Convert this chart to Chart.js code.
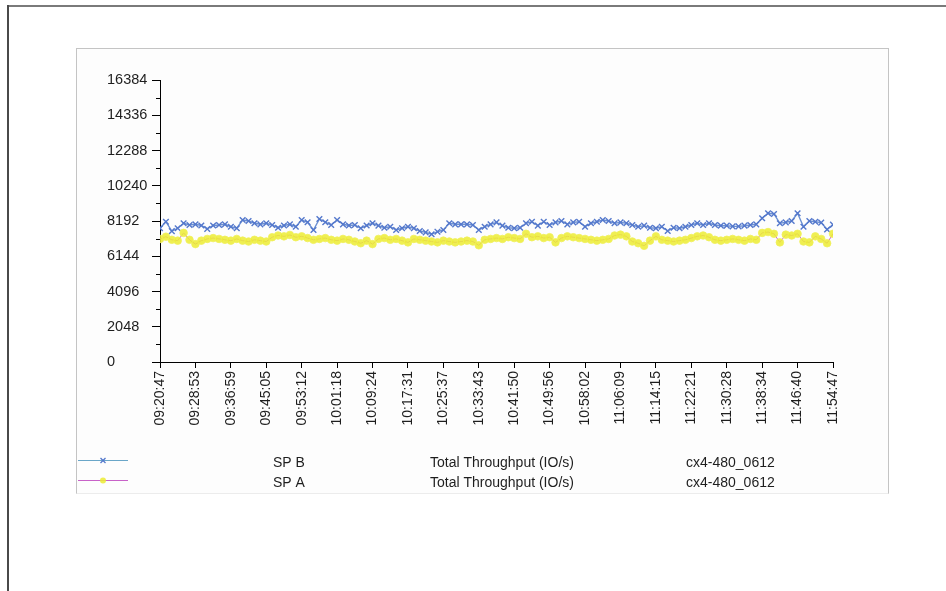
<!DOCTYPE html>
<html>
<head>
<meta charset="utf-8">
<title>Total Throughput (IO/s) - cx4-480_0612</title>
<script src="https://cdn.jsdelivr.net/npm/chart.js@4.4.1/dist/chart.umd.min.js"></script>
<style>
  html, body { margin: 0; padding: 0; background: #ffffff; }
  #page { position: relative; width: 946px; height: 591px; overflow: hidden; }
  #frameTop { position: absolute; left: 7px; top: 5px; width: 939px; height: 2px; background: #7a7a7a; }
  #frameLeft { position: absolute; left: 7px; top: 5px; width: 2px; height: 586px; background: #4a4a4a; }
  #panel { position: absolute; left: 76px; top: 48px; width: 811px; height: 444px;
           background: #fdfdfd; border: 1px solid #c4c4c4; border-bottom-color: #ececec; }
  #chartBox { position: absolute; left: 0; top: 0; width: 946px; height: 591px; }
</style>
</head>
<body>
<div id="page">
  <div id="frameTop"></div>
  <div id="frameLeft"></div>
  <div id="panel"></div>
  <div id="chartBox"><canvas id="chart" width="946" height="591"></canvas></div>
</div>
<script>
// Time labels shown on the x axis, one every POINTS_PER_TICK samples
const tickLabels = [
  '09:20:47', '09:28:53', '09:36:59', '09:45:05', '09:53:12',
  '10:01:18', '10:09:24', '10:17:31', '10:25:37', '10:33:43',
  '10:41:50', '10:49:56', '10:58:02', '11:06:09', '11:14:15',
  '11:22:21', '11:30:28', '11:38:34', '11:46:40', '11:54:47'
];
const POINTS_PER_TICK = 6;

// Y axis ticks (IO/s)
const yTicks = [0, 2048, 4096, 6144, 8192, 10240, 12288, 14336, 16384];

// Series names, metric and source columns of the legend
const seriesNames = ['SP B', 'SP A'];
const metricLabel = 'Total Throughput (IO/s)';
const sourceLabel = 'cx4-480_0612';

// Total throughput samples, SP B
const spB = [
  7770, 8150, 7600, 7770, 8060, 7960, 8000, 7930, 7730, 7930,
  7960, 8000, 7860, 7770, 8250, 8190, 8060, 8000, 8060, 7960,
  7800, 7930, 8000, 7860, 8250, 8120, 7670, 8310, 8120, 7960,
  8250, 8000, 7930, 7960, 7770, 7930, 8060, 7920, 7800, 7860,
  7670, 7770, 7860, 7770, 7610, 7530, 7420, 7570, 7670, 8060,
  8000, 8000, 8000, 7960, 7670, 7860, 8000, 8110, 7920, 7800,
  7770, 7800, 8060, 8150, 7920, 8150, 7960, 8110, 8190, 8000,
  8110, 8150, 7860, 8060, 8150, 8250, 8190, 8060, 8110, 8060,
  7960, 7860, 7920, 7800, 7770, 7860, 7610, 7800, 7770, 7860,
  7960, 8060, 7960, 8060, 7960, 7920, 7920, 7880, 7880, 7920,
  7960, 8000, 8350, 8640, 8600, 8060, 8110, 8190, 8640, 7860,
  8190, 8150, 8100, 7700, 7980
];

// Total throughput samples, SP A
const spA = [
  7150, 7280, 7100, 7050, 7500, 7100, 6850, 7050, 7150, 7200,
  7150, 7100, 7050, 7150, 7050, 7000, 7100, 7050, 7000, 7250,
  7350, 7300, 7380, 7250, 7300, 7200, 7100, 7150, 7200, 7100,
  7050, 7150, 7100, 7000, 6900, 7050, 6850, 7150, 7200, 7100,
  7150, 7050, 6950, 7150, 7100, 7050, 7000, 6950, 7050, 7000,
  6950, 7000, 7050, 7000, 6780, 7100, 7150, 7200, 7150, 7250,
  7200, 7150, 7450, 7250, 7300, 7200, 7250, 6950, 7200, 7300,
  7250, 7200, 7150, 7100, 7050, 7100, 7150, 7350, 7400, 7300,
  7000, 6900, 6750, 7050, 7300, 7100, 7050, 7000, 7050, 7100,
  7200, 7300, 7350, 7250, 7100, 7050, 7100, 7150, 7100, 7050,
  7150, 7100, 7500, 7550, 7450, 6950, 7400, 7350, 7450, 7000,
  6950, 7300, 7150, 6900, 7450
];

const FONT = 'Liberation Sans, Arial, sans-serif';
const TEXT = '#1e1e1e';

const toPoints = arr => arr.map((v, i) => ({ x: i, y: v }));

// Short minor ticks halfway between the labelled y ticks
const minorTicks = {
  id: 'minorTicks',
  afterDraw(chart) {
    const ys = chart.scales.y;
    const ctx = chart.ctx;
    ctx.save();
    ctx.strokeStyle = '#000000';
    ctx.lineWidth = 1;
    for (let k = 0; k < yTicks.length - 1; k++) {
      const v = (yTicks[k] + yTicks[k + 1]) / 2;
      const py = Math.round(ys.getPixelForValue(v)) + 0.5;
      ctx.beginPath();
      ctx.moveTo(ys.right - 4, py);
      ctx.lineTo(ys.right, py);
      ctx.stroke();
    }
    ctx.restore();
  }
};

// Tabular legend under the plot: symbol, series, metric, source
const tableLegend = {
  id: 'tableLegend',
  afterDraw(chart) {
    const ctx = chart.ctx;
    const cols = { symStart: 78, symEnd: 128, name: 273, metric: 430, source: 686 };
    ctx.save();
    chart.data.datasets.forEach((ds, i) => {
      const rowY = 460 + i * 20 + 0.5;
      const cx = (cols.symStart + cols.symEnd) / 2;
      ctx.strokeStyle = ds.legendLineColor;
      ctx.lineWidth = 1.2;
      ctx.beginPath();
      ctx.moveTo(cols.symStart, rowY);
      ctx.lineTo(cols.symEnd, rowY);
      ctx.stroke();
      if (ds.pointStyle === 'circle') {
        ctx.fillStyle = ds.pointBackgroundColor;
        ctx.beginPath();
        ctx.arc(cx, rowY, 3, 0, Math.PI * 2);
        ctx.fill();
      } else {
        const r = 2.5;
        ctx.strokeStyle = ds.pointBorderColor;
        ctx.lineWidth = 1.3;
        ctx.beginPath();
        ctx.moveTo(cx - r, rowY - r); ctx.lineTo(cx + r, rowY + r);
        ctx.moveTo(cx + r, rowY - r); ctx.lineTo(cx - r, rowY + r);
        ctx.stroke();
      }
      ctx.fillStyle = TEXT;
      ctx.font = '14px ' + FONT;
      ctx.textBaseline = 'middle';
      ctx.textAlign = 'left';
      ctx.fillText(ds.label, cols.name, rowY + 3);
      ctx.fillText(metricLabel, cols.metric, rowY + 3);
      ctx.fillText(sourceLabel, cols.source, rowY + 3);
    });
    ctx.restore();
  }
};

new Chart(document.getElementById('chart'), {
  type: 'line',
  data: {
    datasets: [
      {
        label: seriesNames[0],
        data: toPoints(spB),
        borderColor: '#6a8fd2',
        legendLineColor: '#6aa6c8',
        borderWidth: 1.4,
        pointStyle: 'crossRot',
        pointRadius: 4,
        pointBorderWidth: 1.4,
        pointBorderColor: '#5478cc',
        pointBackgroundColor: '#5478cc',
        tension: 0,
        order: 1
      },
      {
        label: seriesNames[1],
        data: toPoints(spA),
        borderColor: '#cc66cc',
        legendLineColor: '#c862c8',
        borderWidth: 1,
        pointStyle: 'circle',
        pointRadius: 3.8,
        pointBorderWidth: 1,
        pointBorderColor: 'rgba(240,240,90,0.8)',
        pointBackgroundColor: 'rgba(236,236,50,0.85)',
        tension: 0,
        order: 0
      }
    ]
  },
  options: {
    responsive: false,
    animation: false,
    devicePixelRatio: 1,
    layout: { padding: { left: 107, top: 80, right: 113, bottom: 149 } },
    plugins: { legend: { display: false }, tooltip: { enabled: false } },
    scales: {
      x: {
        type: 'linear',
        min: 0,
        max: (tickLabels.length - 1) * POINTS_PER_TICK,
        afterFit(scale) { scale.height = 80; },
        afterBuildTicks(scale) {
          scale.ticks = tickLabels.map((_, k) => ({ value: k * POINTS_PER_TICK }));
        },
        ticks: {
          autoSkip: false,
          minRotation: 90,
          maxRotation: 90,
          padding: 3,
          color: TEXT,
          font: { family: FONT, size: 14 },
          callback: v => tickLabels[Math.round(v / POINTS_PER_TICK)] || ''
        },
        grid: { display: true, drawOnChartArea: false, drawTicks: true, tickLength: 6, tickColor: '#000000' },
        border: { display: true, color: '#000000', width: 1 }
      },
      y: {
        type: 'linear',
        min: yTicks[0],
        max: yTicks[yTicks.length - 1],
        afterFit(scale) { scale.width = 53; },
        afterBuildTicks(scale) {
          scale.ticks = yTicks.map(v => ({ value: v }));
        },
        ticks: {
          crossAlign: 'far',
          padding: 2,
          color: TEXT,
          font: { family: FONT, size: 14.5 },
          callback: v => String(v)
        },
        grid: { display: true, drawOnChartArea: false, drawTicks: true, tickLength: 8, tickColor: '#000000' },
        border: { display: true, color: '#000000', width: 1 }
      }
    }
  },
  plugins: [minorTicks, tableLegend]
});
</script>
</body>
</html>
